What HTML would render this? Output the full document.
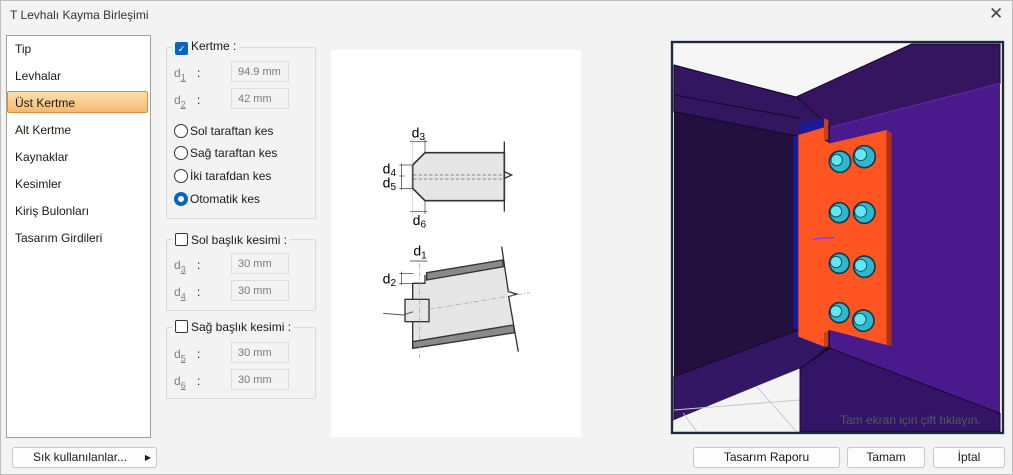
<!DOCTYPE html>
<html><head><meta charset="utf-8"><style>
*{box-sizing:border-box}
body{margin:0;width:1013px;height:475px;background:#f3f3f3;font-family:"Liberation Sans",sans-serif;font-size:12px;color:#1a1a1a;position:relative;overflow:hidden}
.a{position:absolute}
.win{left:0;top:0;width:1013px;height:475px;border:1px solid #bdbdbd;}
.list{left:6px;top:35px;width:145px;height:403px;background:#fff;border:1px solid #a0a0a0}
.it{position:absolute;left:8px;font-size:12px}
.sel{left:0;top:55px;width:141px;height:22px;background:linear-gradient(#fce0b0,#f5b870);border:1px solid #d89040;border-radius:2px}
.grp{border:1px solid #d8d8d8;border-radius:2px}
.lbl{background:#f3f3f3;padding:0 3px}
.cb{display:inline-block;width:13px;height:13px;border:1px solid #333;border-radius:2px;background:#fff;vertical-align:-2px;margin-right:3px}
.cbc{background:#0b63c1;border-color:#0b63c1;color:#fff;font-size:9px;text-align:center;line-height:12px}
.inp{width:58px;height:21px;border:1px solid #dcdcdc;background:#f3f3f3;color:#7a7a7a;font-size:11px;padding:4px 0 0 6px}
.dl{color:#808080;font-size:12px}
.rad{display:inline-block;width:14px;height:14px;border:1px solid #333;border-radius:50%;background:#fff;vertical-align:-3px;margin-right:2px}
.btn{height:21px;border:1px solid #c8c8c8;border-radius:3px;background:#fdfdfd;text-align:center;font-size:12px;line-height:19px}
</style></head><body>
<div class="a win"></div>
<div class="a" style="left:10px;top:8px;font-size:12px;color:#333">T Levhalı Kayma Birleşimi</div>
<div class="a" style="left:989px;top:4px;font-size:17px;color:#444">✕</div>

<div class="a list">
<div class="a sel"></div>
<div class="it" style="top:6px">Tip</div>
<div class="it" style="top:33px">Levhalar</div>
<div class="it" style="top:60px">Üst Kertme</div>
<div class="it" style="top:87px">Alt Kertme</div>
<div class="it" style="top:114px">Kaynaklar</div>
<div class="it" style="top:141px">Kesimler</div>
<div class="it" style="top:168px">Kiriş Bulonları</div>
<div class="it" style="top:195px">Tasarım Girdileri</div>
</div>

<div class="a grp" style="left:166px;top:47px;width:150px;height:172px"></div>
<div class="a lbl" style="left:172px;top:39px"><span class="cb cbc">✓</span>Kertme :</div>
<div class="a dl" style="left:174px;top:66px">d<sub style="font-size:9px;text-decoration:underline">1</sub></div><div class="a" style="left:197px;top:66px">:</div>
<div class="a inp" style="left:231px;top:61px">94.9 mm</div>
<div class="a dl" style="left:174px;top:93px">d<sub style="font-size:9px;text-decoration:underline">2</sub></div><div class="a" style="left:197px;top:93px">:</div>
<div class="a inp" style="left:231px;top:88px">42 mm</div>
<div class="a" style="left:174px;top:124px"><span class="rad"></span>Sol taraftan kes</div>
<div class="a" style="left:174px;top:146px"><span class="rad"></span>Sağ taraftan kes</div>
<div class="a" style="left:174px;top:169px"><span class="rad"></span>İki tarafdan kes</div>
<div class="a" style="left:174px;top:192px"><span class="rad" style="border:4px solid #0b63c1"></span>Otomatik kes</div>

<div class="a grp" style="left:166px;top:239px;width:150px;height:72px"></div>
<div class="a lbl" style="left:172px;top:233px"><span class="cb"></span>Sol başlık kesimi :</div>
<div class="a dl" style="left:174px;top:258px">d<sub style="font-size:9px;text-decoration:underline">3</sub></div><div class="a" style="left:197px;top:258px">:</div>
<div class="a inp" style="left:231px;top:253px">30 mm</div>
<div class="a dl" style="left:174px;top:285px">d<sub style="font-size:9px;text-decoration:underline">4</sub></div><div class="a" style="left:197px;top:285px">:</div>
<div class="a inp" style="left:231px;top:280px">30 mm</div>

<div class="a grp" style="left:166px;top:327px;width:150px;height:72px"></div>
<div class="a lbl" style="left:172px;top:320px"><span class="cb"></span>Sağ başlık kesimi :</div>
<div class="a dl" style="left:174px;top:347px">d<sub style="font-size:9px;text-decoration:underline">5</sub></div><div class="a" style="left:197px;top:347px">:</div>
<div class="a inp" style="left:231px;top:342px">30 mm</div>
<div class="a dl" style="left:174px;top:374px">d<sub style="font-size:9px;text-decoration:underline">6</sub></div><div class="a" style="left:197px;top:374px">:</div>
<div class="a inp" style="left:231px;top:369px">30 mm</div>

<div class="a" style="left:331px;top:50px;width:250px;height:387px;background:#fff"></div>
<svg class="a" style="left:370px;top:110px" width="170" height="250" viewBox="0 0 510 750" font-family="Liberation Sans" font-size="42">
<polygon points="128,165 165,128 403,128 403,272 165,272 128,235" fill="#e6e6e6" stroke="#333" stroke-width="5"/>
<polyline points="403,95 403,185 425,195 403,205 403,305" fill="none" stroke="#333" stroke-width="4"/>
<line x1="130" y1="195" x2="400" y2="195" stroke="#888" stroke-width="3" stroke-dasharray="10,6"/>
<line x1="130" y1="207" x2="400" y2="207" stroke="#888" stroke-width="3" stroke-dasharray="10,6"/>
<line x1="128" y1="88" x2="128" y2="320" stroke="#999" stroke-width="2" stroke-dasharray="3,3"/>
<g stroke="#333" stroke-width="2"><line x1="120" y1="95" x2="172" y2="95"/><line x1="165" y1="88" x2="165" y2="128"/><line x1="88" y1="165" x2="130" y2="165"/><line x1="95" y1="160" x2="95" y2="240"/><line x1="88" y1="198" x2="104" y2="198"/><line x1="88" y1="235" x2="130" y2="235"/><line x1="120" y1="305" x2="172" y2="305"/><line x1="165" y1="272" x2="165" y2="312"/></g>
<text x="125" y="82">d<tspan font-size="30" dy="8">3</tspan></text>
<text x="38" y="190">d<tspan font-size="30" dy="8">4</tspan></text>
<text x="38" y="232">d<tspan font-size="30" dy="8">5</tspan></text>
<text x="128" y="345">d<tspan font-size="30" dy="8">6</tspan></text>
<polygon points="128,520 170,520 170,500 400,458 435,670 128,705" fill="#e6e6e6"/>
<polygon points="170,488 398,450 400,470 170,510" fill="#8a8a8a" stroke="#333" stroke-width="4"/>
<polygon points="128,695 430,645 434,668 128,715" fill="#8a8a8a" stroke="#333" stroke-width="4"/>
<line x1="128" y1="520" x2="128" y2="715" stroke="#333" stroke-width="4"/>
<polyline points="128,520 165,520 165,495" fill="none" stroke="#333" stroke-width="4"/>
<polyline points="395,410 415,545 440,552 416,560 445,725" fill="none" stroke="#333" stroke-width="4"/>
<rect x="105" y="568" width="72" height="67" fill="#e6e6e6" stroke="#333" stroke-width="4"/>
<polyline points="40,610 100,615 130,605" fill="none" stroke="#555" stroke-width="3"/>
<line x1="177" y1="598" x2="480" y2="548" stroke="#999" stroke-width="2" stroke-dasharray="14,5,3,5"/>
<line x1="148" y1="460" x2="148" y2="745" stroke="#999" stroke-width="2" stroke-dasharray="14,5,3,5"/>
<g stroke="#333" stroke-width="2"><line x1="120" y1="453" x2="172" y2="453"/><line x1="88" y1="490" x2="130" y2="490"/><line x1="95" y1="485" x2="95" y2="525"/><line x1="88" y1="520" x2="130" y2="520"/></g>
<text x="130" y="437">d<tspan font-size="30" dy="8">1</tspan></text>
<text x="38" y="520">d<tspan font-size="30" dy="8">2</tspan></text>
</svg>

<svg class="a" style="left:670px;top:40px" width="335" height="395" viewBox="0 0 1005 1185">
<rect x="0" y="0" width="1005" height="1185" fill="#f3f3f3"/>
<rect x="12" y="12" width="978" height="1163" fill="#22103f"/>
<polygon points="12,12 725,12 380,170 12,75" fill="#f6f6f6"/>
<polygon points="12,75 380,172 470,232 390,290 12,215" fill="#321660" stroke="#14082a" stroke-width="3"/>
<line x1="12" y1="165" x2="390" y2="235" stroke="#14082a" stroke-width="3"/>
<polygon points="12,1010 385,870 480,915 390,990 12,1140" fill="#331664" stroke="#14082a" stroke-width="3"/>
<polygon points="12,1140 390,985 390,1175 12,1175" fill="#f4f4f4"/>
<g stroke="#c8c8c8" stroke-width="3"><line x1="80" y1="1175" x2="40" y2="1120"/><line x1="260" y1="1040" x2="380" y2="1175"/><line x1="12" y1="1110" x2="390" y2="1080"/></g>
<polygon points="380,170 725,12 990,12 990,1175 390,1175 390,985 480,925 480,262" fill="#4a1a8c"/>
<polygon points="380,170 725,12 990,12 990,130 480,262" fill="#35155f" stroke="#14082a" stroke-width="3"/>
<polygon points="390,985 480,925 990,1120 990,1175 390,1175" fill="#331466" stroke="#14082a" stroke-width="3"/>
<line x1="480" y1="262" x2="990" y2="130" stroke="#5a2aa0" stroke-width="4"/>
<polygon points="370,290 392,285 392,870 370,865" fill="#1a1a9a"/>
<polygon points="390,250 462,235 462,265 392,290" fill="#1a1a9a"/>
<polygon points="390,880 462,900 462,925 392,895" fill="#1a1a9a"/>
<polygon points="385,285 462,262 462,300 480,310 650,270 650,915 480,870 462,880 462,920 385,890" fill="#ff5522"/>
<polygon points="650,270 665,280 665,918 650,915" fill="#b03010"/>
<polygon points="462,235 475,240 475,300 462,300" fill="#c84018"/>
<polygon points="462,880 475,870 475,920 462,920" fill="#c84018"/>
<line x1="428" y1="597" x2="495" y2="592" stroke="#7a40ff" stroke-width="4"/>
<g fill="#2fb8cc" stroke="#163848" stroke-width="5">
<circle cx="510" cy="365" r="32"/><circle cx="583" cy="350" r="33"/>
<circle cx="508" cy="518" r="30"/><circle cx="583" cy="518" r="32"/>
<circle cx="508" cy="670" r="30"/><circle cx="583" cy="680" r="32"/>
<circle cx="508" cy="818" r="30"/><circle cx="580" cy="842" r="32"/>
</g>
<g fill="#60e8f4" stroke="#1a5060" stroke-width="3"><circle cx="500" cy="360" r="17"/><circle cx="572" cy="344" r="18"/><circle cx="498" cy="514" r="17"/><circle cx="572" cy="514" r="18"/><circle cx="498" cy="666" r="17"/><circle cx="572" cy="676" r="18"/><circle cx="498" cy="814" r="17"/><circle cx="570" cy="838" r="18"/></g>
<text x="510" y="1152" font-family="Liberation Sans" font-size="36" fill="#505a60">Tam ekran için çift tıklayın.</text>
<rect x="6" y="6" width="993" height="1173" fill="none" stroke="#1e2a3a" stroke-width="7"/>
</svg>

<div class="a btn" style="left:12px;top:447px;width:145px;text-align:left;padding-left:20px">Sık kullanılanlar... <span style="position:absolute;right:5px;font-size:8px">▶</span></div>
<div class="a btn" style="left:693px;top:447px;width:147px">Tasarım Raporu</div>
<div class="a btn" style="left:847px;top:447px;width:78px">Tamam</div>
<div class="a btn" style="left:933px;top:447px;width:72px">İptal</div>
</body></html>
